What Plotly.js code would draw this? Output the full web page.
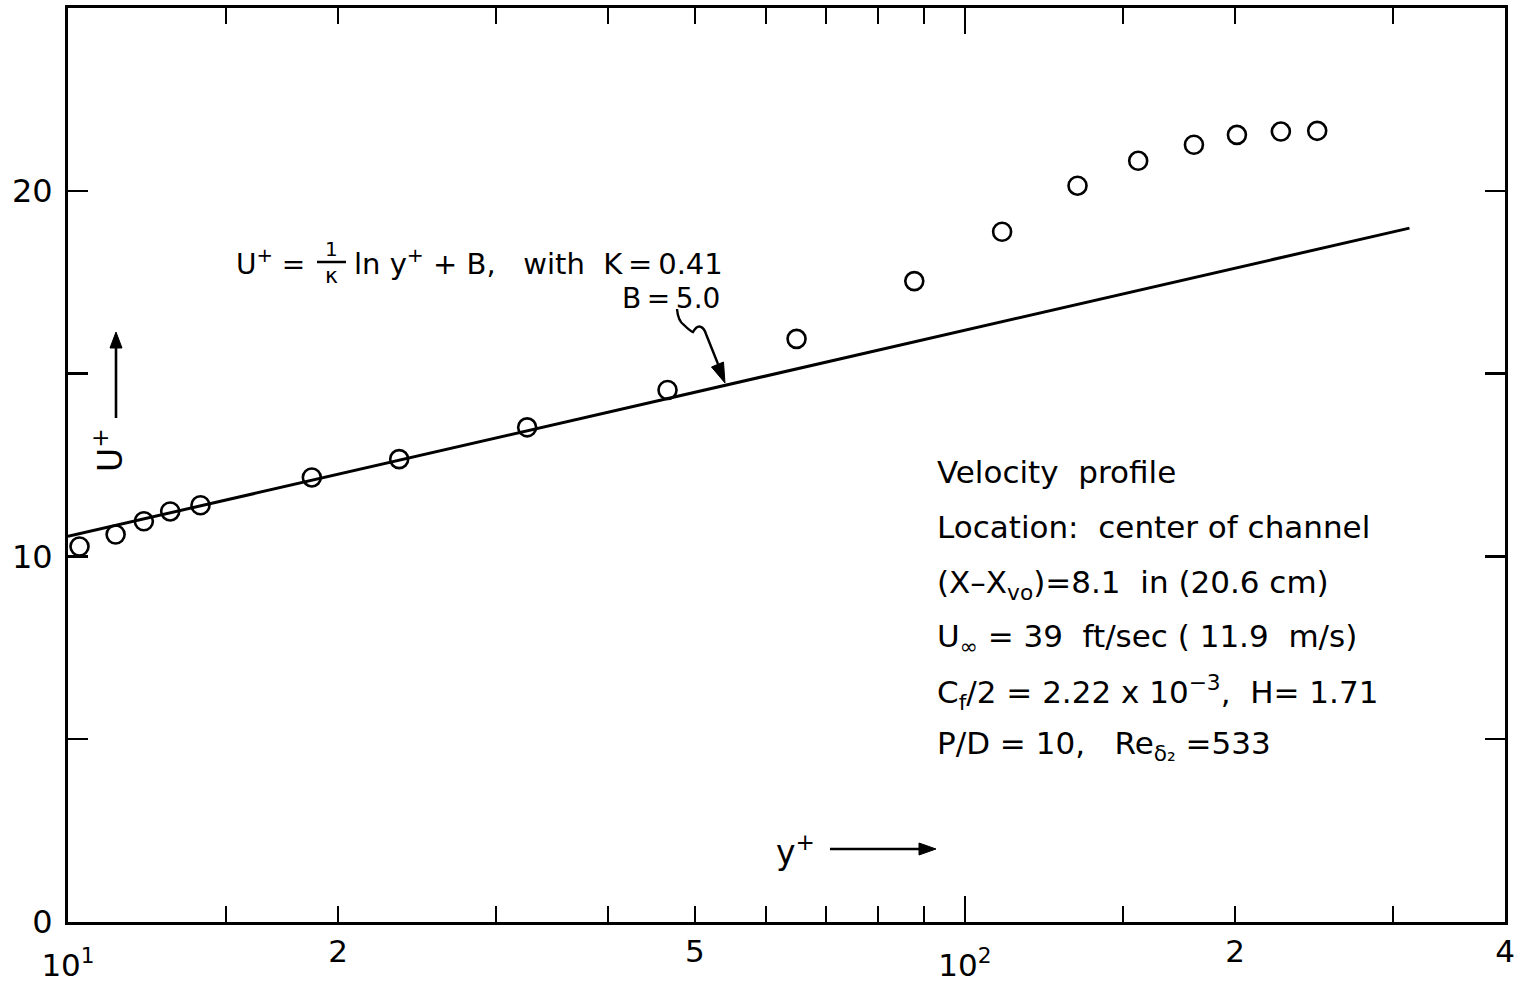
<!DOCTYPE html>
<html>
<head>
<meta charset="utf-8">
<script src="https://cdn.plot.ly/plotly-3.0.1.min.js"></script>
<style>html,body{margin:0;padding:0;background:#fff;}#chart{width:1520px;height:986px;}</style>
</head>
<body>
<div id="chart"></div>
<script>
// ---- data ----
const yPlus = [10.3, 11.3, 12.15, 13.0, 14.05, 18.7, 23.4, 32.5, 46.6, 64.9, 87.8, 110, 133.5, 156, 180, 201, 225, 247];
const uPlus = [10.27, 10.6, 10.96, 11.23, 11.4, 12.16, 12.66, 13.53, 14.55, 15.95, 17.53, 18.88, 20.14, 20.82, 21.26, 21.53, 21.62, 21.64];
const lawYPlus = [10, 313];
const lawUPlus = [10.55, 18.98];
// x ticks: labelled values, unlabelled (minor) values, decade labels
const xTickVals = [20, 50, 200, 400];
const xTickText = ["2", "5", "2", "4"];
const xMinorVals = [15, 30, 40, 60, 70, 80, 90, 150, 300];
const xDecadeVals = [10, 100];
const xDecadeText = ["10<sup>1</sup>", "10<sup>2</sup>"];
const yTickVals = [0, 10, 20];
const yTickText = ["0", "10", "20"];
const yMinorVals = [5, 15];
const infoLines = [
  "Velocity  profile",
  "Location:  center of channel",
  "(X\u2013X<sub>vo</sub>)=8.1  in (20.6 cm)",
  "U<sub>\u221e</sub> = 39  ft/sec ( 11.9  m/s)",
  "C<sub>f</sub>/2 = 2.22 x 10<sup>\u22123</sup>,  H= 1.71",
  "P/D = 10,   Re<sub>\u03b4\u2082</sub> =533"
];

// ---- layout geometry (pixels) ----
const W = 1520, H = 986;
const M = {l: 68, r: 15, t: 8, b: 64};
const PW = W - M.l - M.r, PH = H - M.t - M.b;
function px(x) { return (x - M.l) / PW; }
function py(y) { return (H - M.b - y) / PH; }
function P(x, y) { return px(x).toFixed(5) + ',' + py(y).toFixed(5); }
const FONT = "DejaVu Sans, Arial, sans-serif";

const traces = [
  {
    x: lawYPlus, y: lawUPlus, type: 'scatter', mode: 'lines', xaxis: 'x2', yaxis: 'y',
    line: {color: '#000', width: 3}, hoverinfo: 'skip', showlegend: false
  },
  {
    x: yPlus, y: uPlus, type: 'scatter', mode: 'markers',
    marker: {symbol: 'circle-open', size: 18, color: '#000', line: {width: 2.6, color: '#000'}},
    showlegend: false
  }
];

function txt(text, x, y, size, extra) {
  return Object.assign({
    text: text, xref: 'paper', yref: 'paper', x: px(x), y: py(y),
    xanchor: 'left', yanchor: 'middle', showarrow: false,
    font: {family: FONT, size: size, color: '#000'}
  }, extra || {});
}

const annotations = [];
const infoY = [472, 527, 584, 638, 692, 745];
infoLines.forEach((t, i) => annotations.push(txt(t, 935, infoY[i], 31)));
annotations.push(txt("U<sup>+</sup> =", 234, 262, 28));
annotations.push(txt("1", 331, 249, 20, {xanchor: 'center'}));
annotations.push(txt("\u03ba", 331, 275, 22, {xanchor: 'center'}));
annotations.push(txt("ln y<sup>+</sup> + B,   with  K\u2009=\u20090.41", 352, 262, 29));
annotations.push(txt("B\u2009=\u20095.0", 620, 298, 28));
annotations.push(txt("U<sup>+</sup>", 108, 450, 33, {xanchor: 'center', textangle: -90}));
annotations.push(txt("y<sup>+</sup>", 795, 850, 33, {xanchor: 'center'}));

function line(x0, y0, x1, y1, w) {
  return {type: 'line', xref: 'paper', yref: 'paper', x0: px(x0), y0: py(y0), x1: px(x1), y1: py(y1),
    line: {color: '#000', width: w}};
}
function head(tip, b1, b2) {
  return {type: 'path', xref: 'paper', yref: 'paper',
    path: 'M' + P(tip[0], tip[1]) + ' L' + P(b1[0], b1[1]) + ' L' + P(b2[0], b2[1]) + ' Z',
    fillcolor: '#000', line: {color: '#000', width: 1}};
}
const shapes = [
  line(317, 262, 346, 262, 2.5),
  line(116, 418, 116, 346, 2.6),
  head([116, 332], [110, 348], [122, 348]),
  line(830, 849, 921, 849, 2.6),
  head([936, 849], [919, 843], [919, 855]),
  {type: 'path', xref: 'paper', yref: 'paper',
   path: 'M' + P(677, 309) + ' Q' + P(678, 321) + ' ' + P(684, 325) + ' Q' + P(690, 331) + ' ' + P(693, 332) +
         ' Q' + P(697, 325) + ' ' + P(701, 327) + ' Q' + P(704, 328) + ' ' + P(706, 334) + ' L' + P(718, 364),
   line: {color: '#000', width: 2.4}},
  head([725, 383], [711.5, 367], [723.5, 362])
];

const axisCommon = {
  showgrid: false, zeroline: false, showline: true, linewidth: 3, linecolor: '#000',
  mirror: 'ticks', ticks: 'inside', tickcolor: '#000', tickwidth: 2.5,
  tickfont: {family: FONT, size: 31, color: '#000'}, tickmode: 'array'
};

const layout = {
  width: W, height: H, margin: M, paper_bgcolor: '#fff', plot_bgcolor: '#fff',
  showlegend: false,
  xaxis: Object.assign({}, axisCommon, {
    type: 'log', range: [1, Math.log10(400)], tickvals: xTickVals, ticktext: xTickText, ticklen: 16,
    minor: {tickmode: 'array', tickvals: xMinorVals, ticks: 'inside', ticklen: 16, tickwidth: 2.5, tickcolor: '#000', showgrid: false}
  }),
  xaxis2: Object.assign({}, axisCommon, {
    type: 'log', range: [1, Math.log10(400)], overlaying: 'x', anchor: 'y', side: 'bottom',
    tickvals: xDecadeVals, ticktext: xDecadeText, ticklen: 26, ticklabelstandoff: 14
  }),
  yaxis: Object.assign({}, axisCommon, {
    range: [0, 25], tickvals: yTickVals, ticktext: yTickText, ticklen: 20, ticklabelstandoff: 6,
    tickfont: {family: FONT, size: 32, color: '#000'},
    minor: {tickmode: 'array', tickvals: yMinorVals, ticks: 'inside', ticklen: 20, tickwidth: 2.5, tickcolor: '#000', showgrid: false}
  }),
  annotations: annotations,
  shapes: shapes
};

Plotly.newPlot('chart', traces, layout, {displayModeBar: false, staticPlot: true});
</script>
</body>
</html>
